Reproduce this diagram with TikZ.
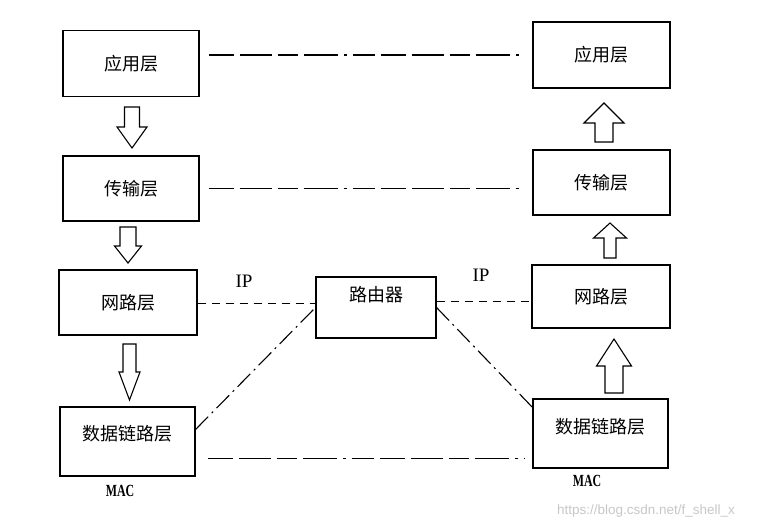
\documentclass[tikz,border=0pt]{standalone}
\usepackage{fontspec}
\setmainfont{Liberation Serif}
\newfontfamily\cjk{Noto Sans CJK SC}
\newfontfamily\wmfont{Liberation Sans}
\usepackage{tikz}
\usetikzlibrary{positioning,calc}
\colorlet{penColor}{black}
\colorlet{markColor}{black!22}

\tikzset{
  layerbox/.style={draw=penColor,line width=1.1pt,minimum width=136pt,minimum height=66pt,
    font=\cjk\fontsize{18}{18}\selectfont},
  arrowline/.style={draw=penColor,line width=1.1pt,fill=white},
  peerline/.style={penColor,line width=1.1pt,
    dash pattern=on 25pt off 6pt on 32pt off 6pt on 20pt off 6pt on 34pt off 6pt on 3pt off 6pt on 22pt off 6pt},
  ipline/.style={penColor,line width=1.1pt,dash pattern=on 8pt off 6pt},
  linkline/.style={penColor,line width=1.1pt,dash pattern=on 18pt off 5pt on 2pt off 5pt},
  tag/.style={font=\fontsize{19}{19}\selectfont},
}

% hollow block arrow: center x, tail y, head base y, tip y, shaft half width, head half width
\newcommand\hollowarrow[6]{%
  \draw[arrowline] (#1-#5,#2) -- (#1+#5,#2) -- (#1+#5,#3) -- (#1+#6,#3)
    -- (#1,#4) -- (#1-#6,#3) -- (#1-#5,#3) -- cycle;}

\begin{document}
\begin{tikzpicture}[x=1pt,y=-1pt]
  \useasboundingbox (0,0) rectangle (762,528);

  % sender stack
  \node[layerbox] (appL)   at (131,63.5)  {应用层};
  \node[layerbox,minimum height=65pt] (transL) at (131,188.5) {传输层};
  \node[layerbox,minimum width=138pt,minimum height=65pt] (netL) at (128,302.5) {网路层};
  \node[layerbox,minimum width=135pt,minimum height=69pt,
    label={[yshift=8pt,font=\cjk\fontsize{18}{18}\selectfont]center:数据链路层}] (dlL) at (127.5,441.5) {};

  % receiver stack
  \node[layerbox,minimum width=137pt] (appR)   at (601.5,55)  {应用层};
  \node[layerbox,minimum width=137pt,minimum height=65pt] (transR) at (601.5,182.5) {传输层};
  \node[layerbox,minimum width=138pt,minimum height=63pt] (netR) at (601,296.5) {网路层};
  \node[layerbox,minimum width=135pt,minimum height=69pt,
    label={[yshift=7pt,font=\cjk\fontsize{18}{18}\selectfont]center:数据链路层}] (dlR) at (600.5,433.5) {};

  % router
  \node[layerbox,minimum width=120pt,minimum height=61pt,
    label={[yshift=13pt,font=\cjk\fontsize{18}{18}\selectfont]center:路由器}] (router) at (376,307.5) {};

  % block arrows
  \hollowarrow{132}{107}{127}{148}{7.5}{15}
  \hollowarrow{128}{227}{246}{263}{8}{13.5}
  \hollowarrow{129.5}{344}{372}{400}{6.5}{10.5}
  \hollowarrow{604}{142}{123}{103}{9}{20}
  \hollowarrow{610}{258}{238}{223}{6}{16.5}
  \hollowarrow{614}{393}{366}{339}{9}{17.5}

  % peer links
  \draw[peerline,shorten <=9pt,shorten >=12pt] (appL.east |- appR.west) -- (appR.west);
  \draw[peerline,shorten <=9pt,shorten >=12pt] (transL.east) -- (transL.east -| transR.west);
  \draw[ipline] (netL.east |- router.176) -- (router.176);
  \draw[ipline] (router.6) -- (router.6 -| netR.west);
  \draw[linkline] (dlL.10) -- (router.west);
  \draw[linkline] (router.east) -- (dlR.159);
  \draw[peerline,shorten <=12pt,shorten >=7pt] (dlL.-14) -- (dlL.-14 -| dlR.west);

  % labels
  \node[tag] (ipL) at (244,281) {IP};
  \node[tag] (ipR) at (481,275) {IP};
  \node (macL) at (120,491) {\fontsize{17}{17}\selectfont\scalebox{0.7}[1]{\textbf{MAC}}};
  \node (macR) at (587,481) {\fontsize{17}{17}\selectfont\scalebox{0.7}[1]{\textbf{MAC}}};

  \node[text=markColor,font=\wmfont\fontsize{13.5}{13.5}\selectfont] (mark) at (646,511)
    {https://blog.csdn.net/f\_shell\_x};
\end{tikzpicture}
\end{document}
